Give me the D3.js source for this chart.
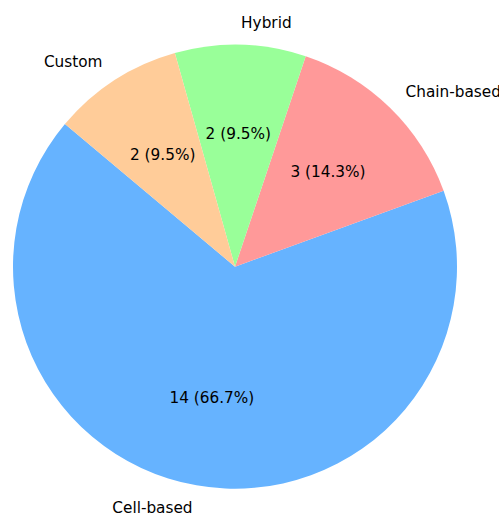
<!DOCTYPE html>
<html>
<head>
<meta charset="utf-8">
<script src="https://cdn.jsdelivr.net/npm/d3@7"></script>
<style>
  html, body { margin: 0; padding: 0; background: #fff; }
  text { font-family: 'DejaVu Sans', sans-serif; font-size: 15.3px; fill: #000; }
</style>
</head>
<body>
<div id="chart"></div>
<script>
const categories = ['Cell-based', 'Chain-based', 'Hybrid', 'Custom']
const counts = [14, 3, 2, 2]
const colors = ['#66b3ff', '#ff9999', '#99ff99', '#ffcc99']

const width = 499
const height = 513
const cx = 235
const cy = 266.7
const radius = 222
// matplotlib startangle=140, counter-clockwise
const start = (90 - 140) * Math.PI / 180

const total = d3.sum(counts)
const data = categories.map((name, i) => ({ name, value: counts[i], color: colors[i] }))

const svg = d3.select('#chart')
  .append('svg')
  .attr('width', width)
  .attr('height', height)

const g = svg.append('g')
  .attr('transform', `translate(${cx}, ${cy})`)

const pie = d3.pie()
  .value((d) => d.value)
  .sort(null)
  .startAngle(start)
  .endAngle(start - 2 * Math.PI)

const arcs = pie(data)

const arc = d3.arc().innerRadius(0).outerRadius(radius)
const labelArc = d3.arc().innerRadius(radius * 1.1).outerRadius(radius * 1.1)
const pctArc = d3.arc().innerRadius(radius * 0.6).outerRadius(radius * 0.6)

g.selectAll('.slice')
  .data(arcs)
  .enter()
  .append('path')
  .attr('class', 'slice')
  .attr('d', arc)
  .attr('fill', (d) => d.data.color)

g.selectAll('.label')
  .data(arcs)
  .enter()
  .append('text')
  .attr('class', 'label')
  .attr('transform', (d) => `translate(${labelArc.centroid(d)})`)
  .attr('text-anchor', (d) => labelArc.centroid(d)[0] > 0 ? 'start' : 'end')
  .attr('dy', '0.35em')
  .text((d) => d.data.name)

g.selectAll('.pct')
  .data(arcs)
  .enter()
  .append('text')
  .attr('class', 'pct')
  .attr('transform', (d) => `translate(${pctArc.centroid(d)})`)
  .attr('text-anchor', 'middle')
  .attr('dy', '0.35em')
  .text((d) => `${d.data.value} (${(d.data.value / total * 100).toFixed(1)}%)`)
</script>
</body>
</html>
